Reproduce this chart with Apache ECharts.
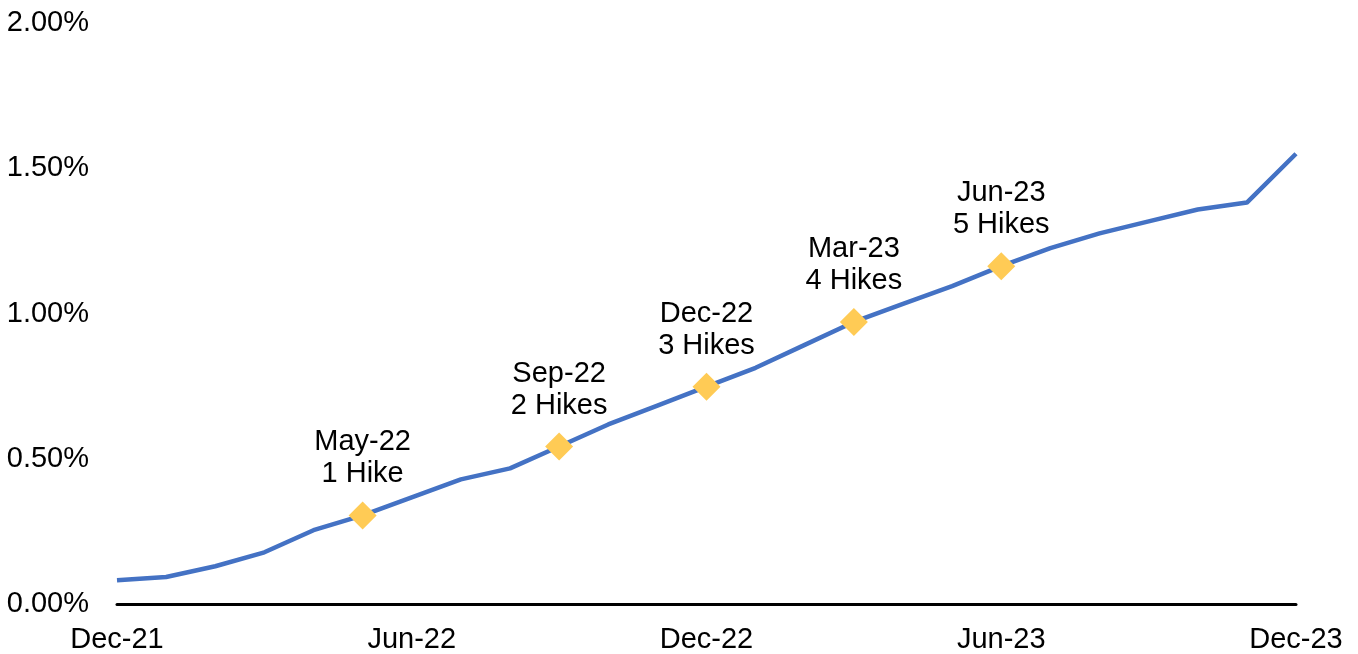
<!DOCTYPE html>
<html>
<head>
<meta charset="utf-8">
<script src="https://cdn.jsdelivr.net/npm/echarts@6/dist/echarts.min.js"></script>
<style>html,body{margin:0;padding:0;background:#fff}#c{width:1358px;height:654px}</style>
</head>
<body>
<div id="c"></div>
<script>
var categories = ['Dec-21','Jan-22','Feb-22','Mar-22','Apr-22','May-22','Jun-22','Jul-22','Aug-22','Sep-22','Oct-22','Nov-22','Dec-22','Jan-23','Feb-23','Mar-23','Apr-23','May-23','Jun-23','Jul-23','Aug-23','Sep-23','Oct-23','Nov-23','Dec-23'];
var values = [0.082,0.093,0.13,0.178,0.254,0.305,0.367,0.429,0.467,0.542,0.618,0.683,0.748,0.813,0.892,0.971,1.033,1.094,1.163,1.225,1.276,1.317,1.358,1.382,1.55];
var hikeMonths = ['May-22','Sep-22','Dec-22','Mar-23','Jun-23'];
var hikeTexts = ['1 Hike','2 Hikes','3 Hikes','4 Hikes','5 Hikes'];
var yTicks = [0, 0.5, 1.0, 1.5, 2.0];

var font = 'Liberation Sans, Arial, sans-serif';
var seriesData = values.map(function(v, i){
  var h = hikeMonths.indexOf(categories[i]);
  if (h < 0) return {value: v, symbol: 'none'};
  return {
    value: v,
    symbol: 'diamond',
    symbolSize: 28,
    itemStyle: {color: '#FFCB55'},
    label: {
      show: true,
      position: 'top',
      distance: 11,
      formatter: categories[i] + '\n' + hikeTexts[h],
      color: '#000',
      fontSize: 29,
      lineHeight: 32,
      fontFamily: font,
      align: 'center'
    }
  };
});

var chart = echarts.init(document.getElementById('c'), null, {renderer: 'canvas'});
chart.setOption({
  animation: false,
  grid: {left: 117, right: 62, top: 23, bottom: 48},
  xAxis: {
    type: 'category',
    data: categories,
    boundaryGap: false,
    axisLine: {lineStyle: {color: '#000', width: 3}},
    axisTick: {show: false},
    axisLabel: {interval: 5, color: '#000', fontSize: 29, fontFamily: font, margin: 21}
  },
  yAxis: {
    type: 'value',
    min: yTicks[0],
    max: yTicks[yTicks.length - 1],
    interval: 0.5,
    splitLine: {show: false},
    axisLine: {show: false},
    axisTick: {show: false},
    axisLabel: {color: '#000', fontSize: 29, fontFamily: font, margin: 28, padding: [4, 0, 0, 0],
      formatter: function(v){ return v.toFixed(2) + '%'; }}
  },
  series: [{
    type: 'line',
    data: seriesData,
    showSymbol: true,
    lineStyle: {color: '#4472C4', width: 4.5},
    itemStyle: {color: '#FFCB55'},
    z: 3
  }]
});
</script>
</body>
</html>
